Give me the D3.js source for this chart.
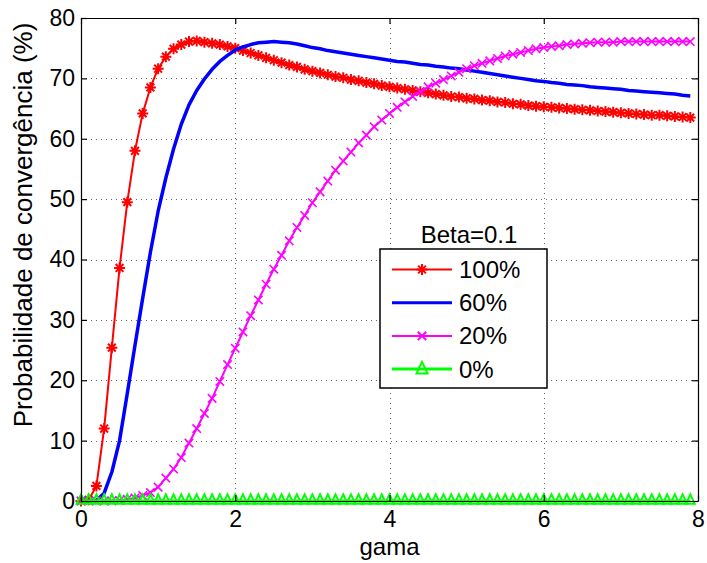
<!doctype html>
<html lang="pt">
  <head>
    <meta charset="UTF-8">
    <title>Probabilidade de convergência</title>
    <style>
      body {
        margin: 0;
        background: #fff;
      }
      svg {
        display: block;
        font-family: Arial, "Liberation Sans", Helvetica, sans-serif;
      }
      .grid line {
        stroke: #000;
        stroke-opacity: 0.6;
        stroke-dasharray: 1, 4;
      }
      .axis path,
      .axis line {
        stroke: #000;
        stroke-width: 1.2px;
      }
      .axis text {
        fill: #000;
      }
    </style>
  </head>
  <body>
    <svg width="707" height="563"></svg>
    <script src="https://d3js.org/d3.v7.min.js"></script>
    <script>

      // gamma values, one every 0.1
      var gama = [
        0.0, 0.1, 0.2, 0.3, 0.4, 0.5, 0.6, 0.7, 0.8, 0.9,
        1.0, 1.1, 1.2, 1.3, 1.4, 1.5, 1.6, 1.7, 1.8, 1.9,
        2.0, 2.1, 2.2, 2.3, 2.4, 2.5, 2.6, 2.7, 2.8, 2.9,
        3.0, 3.1, 3.2, 3.3, 3.4, 3.5, 3.6, 3.7, 3.8, 3.9,
        4.0, 4.1, 4.2, 4.3, 4.4, 4.5, 4.6, 4.7, 4.8, 4.9,
        5.0, 5.1, 5.2, 5.3, 5.4, 5.5, 5.6, 5.7, 5.8, 5.9,
        6.0, 6.1, 6.2, 6.3, 6.4, 6.5, 6.6, 6.7, 6.8, 6.9,
        7.0, 7.1, 7.2, 7.3, 7.4, 7.5, 7.6, 7.7, 7.8, 7.9
      ];

      var p100 = [
        0.0, 0.2, 2.5, 12.0, 25.4, 38.6, 49.5, 58.0, 64.2, 68.5,
        71.6, 73.6, 74.9, 75.6, 76.1, 76.2, 76.0, 75.8, 75.6, 75.3,
        75.0, 74.6, 74.2, 73.8, 73.4, 73.0, 72.6, 72.2, 71.9, 71.5,
        71.2, 70.9, 70.6, 70.3, 70.1, 69.8, 69.6, 69.3, 69.1, 68.8,
        68.6, 68.4, 68.2, 68.0, 67.8, 67.6, 67.4, 67.2, 67.0, 66.9,
        66.7, 66.6, 66.4, 66.3, 66.1, 66.0, 65.8, 65.7, 65.5, 65.4,
        65.3, 65.2, 65.1, 65.0, 64.9, 64.8, 64.7, 64.6, 64.5, 64.4,
        64.3, 64.2, 64.1, 64.0, 63.9, 63.9, 63.8, 63.7, 63.6, 63.5
      ];

      var p60 = [
        0.0, 0.0, 0.1, 1.3, 4.8, 10.0, 17.8, 25.8, 33.6, 41.2,
        48.0, 53.5, 58.3, 62.4, 65.6, 68.0, 69.9, 71.5, 72.8, 73.8,
        74.7, 75.2, 75.6, 75.9, 76.0, 76.1, 76.0, 75.9, 75.7, 75.4,
        75.1, 74.9, 74.6, 74.4, 74.2, 74.0, 73.8, 73.6, 73.4, 73.2,
        73.0, 72.8, 72.7, 72.5, 72.3, 72.2, 72.0, 71.9, 71.7, 71.6,
        71.4, 71.2, 71.0, 70.8, 70.6, 70.4, 70.2, 70.0, 69.8, 69.6,
        69.5, 69.3, 69.2, 69.0, 68.9, 68.8, 68.6, 68.5, 68.4, 68.3,
        68.2, 68.0, 67.9, 67.8, 67.7, 67.6, 67.5, 67.4, 67.2, 67.1
      ];

      var p20 = [
        0.0, 0.0, 0.0, 0.0, 0.0, 0.1, 0.3, 0.5, 0.9, 1.4,
        2.3, 3.8, 5.3, 7.2, 9.6, 12.0, 14.5, 17.0, 19.8, 22.6,
        25.3, 28.0, 30.7, 33.3, 35.9, 38.4, 40.7, 43.1, 45.3, 47.3,
        49.4, 51.2, 53.0, 54.8, 56.3, 57.8, 59.3, 60.6, 62.0, 63.1,
        64.2, 65.2, 66.1, 67.0, 67.8, 68.6, 69.2, 69.8, 70.4, 71.0,
        71.6, 72.1, 72.5, 72.9, 73.3, 73.7, 74.0, 74.3, 74.6, 74.9,
        75.1, 75.3, 75.4, 75.6, 75.7, 75.8, 75.9, 76.0, 76.0, 76.0,
        76.1, 76.1, 76.1, 76.1, 76.1, 76.1, 76.1, 76.1, 76.1, 76.1
      ];

      var p0 = [
        0, 0, 0, 0, 0, 0, 0, 0, 0, 0,
        0, 0, 0, 0, 0, 0, 0, 0, 0, 0,
        0, 0, 0, 0, 0, 0, 0, 0, 0, 0,
        0, 0, 0, 0, 0, 0, 0, 0, 0, 0,
        0, 0, 0, 0, 0, 0, 0, 0, 0, 0,
        0, 0, 0, 0, 0, 0, 0, 0, 0, 0,
        0, 0, 0, 0, 0, 0, 0, 0, 0, 0,
        0, 0, 0, 0, 0, 0, 0, 0, 0, 0
      ];

      var xTicks = [0, 2, 4, 6, 8];
      var yTicks = [0, 10, 20, 30, 40, 50, 60, 70, 80];
      var legendTitle = "Beta=0.1";
      var seriesNames = ["100%", "60%", "20%", "0%"];

      var series = [
        {name: seriesNames[0], values: p100, color: "#ff0000", width: 2, marker: "asterisk"},
        {name: seriesNames[1], values: p60, color: "#0000ff", width: 3.5, marker: null},
        {name: seriesNames[2], values: p20, color: "#ff00ff", width: 2, marker: "cross"},
        {name: seriesNames[3], values: p0, color: "#00ff00", width: 3, marker: "triangle"}
      ];

      var svg = d3.select("svg"),
              margin = {top: 18, right: 9, bottom: 62, left: 81},
              width = +svg.attr("width") - margin.left - margin.right,
              height = +svg.attr("height") - margin.top - margin.bottom,
              g = svg.append("g").attr("transform", "translate(" + margin.left + "," + margin.top + ")");

      var x = d3.scaleLinear().domain([0, 8]).range([0, width]);
      var y = d3.scaleLinear().domain([0, 80]).range([height, 0]);

      // marker shapes, matlab style
      function markerPath(type, s) {
        var a = s * 0.7071;
        if (type === "asterisk") {
          return "M" + (-s) + ",0L" + s + ",0M0," + (-s) + "L0," + s +
                  "M" + (-a) + "," + (-a) + "L" + a + "," + a +
                  "M" + (-a) + "," + a + "L" + a + "," + (-a);
        }
        if (type === "cross") {
          return "M" + (-s) + "," + (-s) + "L" + s + "," + s +
                  "M" + (-s) + "," + s + "L" + s + "," + (-s);
        }
        if (type === "triangle") {
          return "M0," + (-s * 1.5) + "L" + s + "," + (s * 0.6) + "L" + (-s) + "," + (s * 0.6) + "Z";
        }
        return "";
      }

      function markerSize(type) {
        switch (type) {
          case "asterisk":
            return 5.5;
          case "cross":
            return 4.2;
          case "triangle":
            return 4.4;
          default:
            return 4;
        }
      }

      // grid
      g.append("g")
              .attr("class", "grid")
              .selectAll("line")
              .data(xTicks.filter(function (d) { return d > 0 && d < 8; }))
              .enter().append("line")
              .attr("x1", function (d) { return Math.round(x(d)) + 0.5; })
              .attr("x2", function (d) { return Math.round(x(d)) + 0.5; })
              .attr("y1", 0)
              .attr("y2", height);

      g.append("g")
              .attr("class", "grid")
              .selectAll("line")
              .data(yTicks.filter(function (d) { return d > 0 && d < 80; }))
              .enter().append("line")
              .attr("y1", function (d) { return Math.round(y(d)) + 0.5; })
              .attr("y2", function (d) { return Math.round(y(d)) + 0.5; })
              .attr("x1", 0)
              .attr("x2", width);

      // series
      var line = d3.line()
              .x(function (d, i) { return x(gama[i]); })
              .y(function (d) { return y(d); });

      series.forEach(function (s) {
        g.append("path")
                .datum(s.values)
                .attr("fill", "none")
                .attr("stroke", s.color)
                .attr("stroke-width", s.width)
                .attr("stroke-linejoin", "round")
                .attr("d", line);

        if (s.marker) {
          g.append("g")
                  .selectAll("path")
                  .data(s.values)
                  .enter().append("path")
                  .attr("transform", function (d, i) {
                    return "translate(" + x(gama[i]) + "," + y(d) + ")";
                  })
                  .attr("d", markerPath(s.marker, markerSize(s.marker)))
                  .attr("fill", "none")
                  .attr("stroke", s.color)
                  .attr("stroke-width", s.marker === "cross" ? 1.6 : 2);
        }
      });

      // axes, ticks inward on all four sides
      var xAxis = d3.axisBottom(x).tickValues(xTicks).tickSizeInner(-6).tickSizeOuter(0).tickPadding(10);
      var yAxis = d3.axisLeft(y).tickValues(yTicks).tickSizeInner(-6).tickSizeOuter(0).tickPadding(6);

      g.append("g")
              .attr("class", "axis")
              .attr("transform", "translate(0," + height + ")")
              .call(xAxis)
              .selectAll("text")
              .attr("font-size", 23);

      g.append("g")
              .attr("class", "axis")
              .call(yAxis)
              .selectAll("text")
              .attr("font-size", 23);

      g.append("g")
              .attr("class", "axis")
              .call(d3.axisTop(x).tickValues(xTicks).tickSizeInner(-6).tickSizeOuter(0).tickFormat(""));

      g.append("g")
              .attr("class", "axis")
              .attr("transform", "translate(" + width + ",0)")
              .call(d3.axisRight(y).tickValues(yTicks).tickSizeInner(-6).tickSizeOuter(0).tickFormat(""));

      g.selectAll(".axis").attr("font-family", null);

      // axis labels
      g.append("text")
              .attr("x", width / 2)
              .attr("y", height + 54)
              .attr("text-anchor", "middle")
              .attr("font-size", 24)
              .text("gama");

      svg.append("text")
              .attr("transform", "translate(32,225) rotate(-90)")
              .attr("text-anchor", "middle")
              .attr("font-size", 26)
              .text("Probabilidade de convergência (%)");

      // legend
      var legend = svg.append("g").attr("transform", "translate(380,249)");

      legend.append("text")
              .attr("x", 89)
              .attr("y", -6)
              .attr("text-anchor", "middle")
              .attr("font-size", 24)
              .text(legendTitle);

      legend.append("rect")
              .attr("width", 167)
              .attr("height", 139)
              .attr("fill", "#fff")
              .attr("stroke", "#000")
              .attr("stroke-width", 1.5);

      var rows = legend.selectAll(".row")
              .data(series)
              .enter().append("g")
              .attr("class", "row")
              .attr("transform", function (d, i) {
                return "translate(0," + (20.5 + i * 33.2) + ")";
              });

      rows.append("line")
              .attr("x1", 12)
              .attr("x2", 72)
              .attr("stroke", function (d) { return d.color; })
              .attr("stroke-width", function (d) { return Math.min(d.width, 3); });

      rows.filter(function (d) { return d.marker; })
              .append("path")
              .attr("transform", function (d) {
                return d.marker === "triangle" ? "translate(42,1)" : "translate(42,0)";
              })
              .attr("d", function (d) {
                return markerPath(d.marker, d.marker === "triangle" ? 5.5 : markerSize(d.marker));
              })
              .attr("fill", "none")
              .attr("stroke", function (d) { return d.color; })
              .attr("stroke-width", 2);

      rows.append("text")
              .attr("x", 79)
              .attr("y", 8.5)
              .attr("font-size", 24)
              .text(function (d) { return d.name; });

    </script>
  </body>
</html>
